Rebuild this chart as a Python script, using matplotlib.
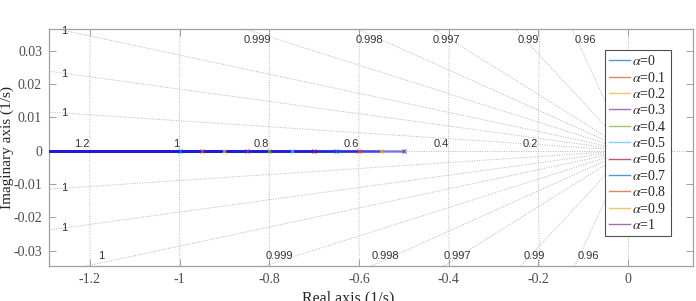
import numpy as np
import matplotlib
matplotlib.use("Agg")
import matplotlib.pyplot as plt
from matplotlib.lines import Line2D

# ---- data ----
alphas = [0, 0.1, 0.2, 0.3, 0.4, 0.5, 0.6, 0.7, 0.8, 0.9, 1]
alpha_labels = ["0", "0.1", "0.2", "0.3", "0.4", "0.5", "0.6", "0.7", "0.8", "0.9", "1"]
poles = [-1.0, -0.95, -0.9, -0.85, -0.8, -0.75, -0.7, -0.65, -0.6, -0.55, -0.5]
series_colors = ["#0072BD", "#D95319", "#EDB120", "#7E2F8E", "#77AC30", "#4DBEEE",
                 "#A2142F", "#0072BD", "#D95319", "#EDB120", "#7E2F8E"]

zeta_vals = [0.99996, 0.99983, 0.99959, 0.99909, 0.99818, 0.99648, 0.98965, 0.960]
zeta_labels = ["1", "1", "1", "0.999", "0.998", "0.997", "0.99", "0.96"]
wn_vals = [0.2, 0.4, 0.6, 0.8, 1.0, 1.2]
wn_labels = ["0.2", "0.4", "0.6", "0.8", "1", "1.2"]

xticks = [-1.2, -1, -0.8, -0.6, -0.4, -0.2, 0]
xtick_labels = ["-1.2", "-1", "-0.8", "-0.6", "-0.4", "-0.2", "0"]
yticks = [-0.03, -0.02, -0.01, 0, 0.01, 0.02, 0.03]
ytick_labels = ["-0.03", "-0.02", "-0.01", "0", "0.01", "0.02", "0.03"]

XMIN, XMAX = -1.291, 0.145
YMIN, YMAX = -0.0345, 0.0366

plt.rcParams['mathtext.fontset'] = 'stix'
serif = 'Liberation Serif'
sans = 'Liberation Sans'

fig = plt.figure(figsize=(6.96, 3.01), dpi=100)
ax = fig.add_axes([0.0704, 0.1173, 0.9253, 0.788])
ax.set_xlim(XMIN, XMAX)
ax.set_ylim(YMIN, YMAX)

gcol = "#b5b5b5"
glw = 0.7
gls = (0, (1, 1.5))
# damping rays
for z, lab in zip(zeta_vals, zeta_labels):
    s = np.sqrt(1 - z ** 2) / z
    for sign in (1, -1):
        xs = np.array([0, XMIN])
        ax.plot(xs, -sign * s * xs, color=gcol, lw=glw, ls=gls, zorder=1)
        ylim_edge = YMAX if sign == 1 else YMIN
        xexit = -abs(ylim_edge) / s
        if xexit < XMIN + 0.03:
            yl = sign * s * (-(XMIN + 0.04))
            ax.text(XMIN + 0.035, yl, lab, fontsize=8, family=sans, color="#333333",
                    ha='center', va='center', zorder=2)
        else:
            ylab = 0.0333 if sign == 1 else -0.0315
            ax.text(xexit + 0.03, ylab, lab, fontsize=8, family=sans, color="#333333",
                    ha='center', va='center', zorder=2)
# zeta = 1 and zeta = 0 lines
ax.plot([XMIN, XMAX], [0, 0], color=gcol, lw=glw, ls=gls, zorder=1)
ax.plot([0, 0], [YMIN, YMAX], color=gcol, lw=glw, ls=gls, zorder=1)
# natural frequency circles
yy = np.linspace(YMIN, YMAX, 50)
for w, lab in zip(wn_vals, wn_labels):
    ax.plot(-np.sqrt(w ** 2 - yy ** 2), yy, color=gcol, lw=glw, ls=gls, zorder=1)
    ax.text(-w, 0.0006, lab, fontsize=8, family=sans, color="#333333",
            ha='right', va='bottom', zorder=2)

# loci
for p, c in zip(poles, series_colors):
    ax.plot([XMIN, p], [0, 0], color="#1c1cd8", lw=1.8, alpha=0.55, zorder=3,
            solid_capstyle='butt')
for p, c in zip(poles, series_colors):
    ax.plot([p], [0], marker='x', ms=3.2, mew=0.9, color=c, alpha=0.8, zorder=4)

# axes styling
ax.set_xticks(xticks)
ax.set_xticklabels(xtick_labels)
ax.set_yticks(yticks)
ax.set_yticklabels(ytick_labels)
ax.tick_params(direction='in', length=5, width=0.7, color="#a0a0a0",
               top=True, right=True, labelsize=10, labelcolor="#4d4d4d", pad=5)
for lab in ax.get_xticklabels() + ax.get_yticklabels():
    lab.set_family(serif)
for sp in ax.spines.values():
    sp.set_color("#a0a0a0")
    sp.set_linewidth(0.9)

ax.set_xlabel("Real axis (1/s)", family=serif, fontsize=11.5, color="#262626")
ax.xaxis.set_label_coords(0.464, -0.103)
ax.set_ylabel("Imaginary axis (1/s)", family=serif, fontsize=11, color="#262626")
ax.yaxis.set_label_coords(-0.055, 0.5)

handles = [Line2D([0], [0], color=c, lw=1.0, alpha=0.7) for c in series_colors]
labels = ["$\\alpha$=" + s for s in alpha_labels]
leg = ax.legend(handles, labels, loc='upper left', bbox_to_anchor=(0.863, 0.909),
                prop={'family': serif, 'size': 10}, frameon=True, fancybox=False,
                edgecolor="#505050", framealpha=1, borderpad=0.3, labelspacing=0.17,
                handlelength=1.5, handletextpad=0.15, borderaxespad=0)
leg.get_frame().set_linewidth(0.8)
for t in leg.get_texts():
    t.set_color("#262626")

fig.savefig("out.png", dpi=100)
